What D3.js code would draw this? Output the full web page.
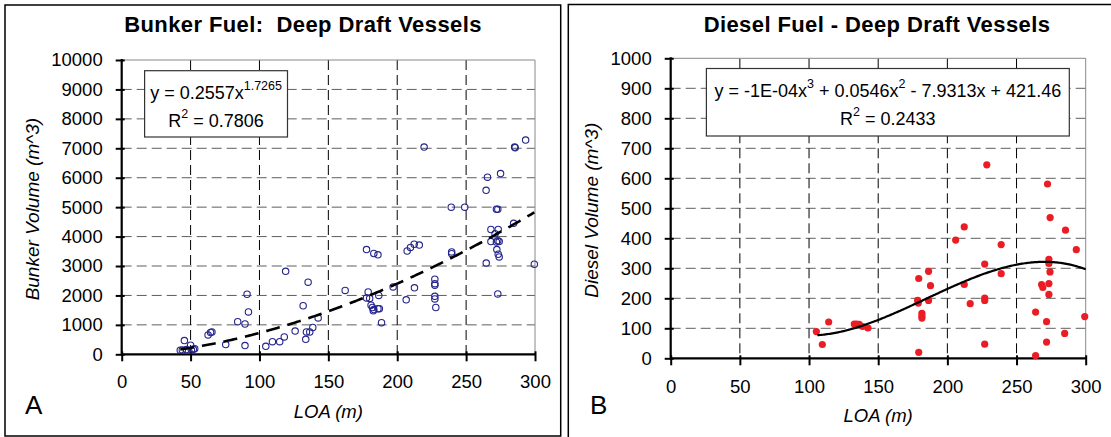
<!DOCTYPE html>
<html>
<head>
<meta charset="utf-8">
<script src="https://cdn.jsdelivr.net/npm/d3@7"></script>
<style>
body { margin: 0; background: #fff; }
svg { display: block; font-family: "Liberation Sans", Arial, sans-serif; }
</style>
</head>
<body>
<div id="chart"></div>
<script>
// ---- data ----
var xTicks = [0, 50, 100, 150, 200, 250, 300];
var bunkerTicks = [0, 1000, 2000, 3000, 4000, 5000, 6000, 7000, 8000, 9000, 10000];
var dieselTicks = [0, 100, 200, 300, 400, 500, 600, 700, 800, 900, 1000];

var bunkerLOA = [42.5, 44, 45.5, 47, 50, 50.6, 52, 53,
    62.7, 64.5, 65.5, 75.5, 84.2, 89.5, 89.5, 91, 92,
    104.6, 109.4, 114.7, 118, 119, 125.9, 131.7, 133.6, 134.1, 136.5, 135.3, 138.7, 142.6,
    162.2, 177.7, 183, 186, 177.7, 178.9, 180, 181, 182, 182.6, 183, 186, 187, 186.6, 188.6,
    197, 206.5, 207.2, 209.6, 212.3, 216, 212.5, 219.5,
    227.3, 227.3, 227.3, 227.3, 227.3, 228,
    239.2, 239.5, 239.5, 249,
    264.5, 265.5, 264.6, 268, 268, 271, 272, 272, 273, 273.3, 273, 274, 272.3, 273.3, 274, 273,
    275, 284.5, 285.2, 285.6, 293.2, 299.5];
var bunkerVolume = [140, 150, 465, 160, 310, 150, 170, 190,
    660, 740, 760, 330, 1110, 1030, 295, 2040, 1440,
    270, 430, 430, 590, 2820, 790, 1650, 510, 760, 760, 2450, 910, 1235,
    2170, 3560, 3425, 3380, 1915, 2120, 1900, 1670, 1590, 1480, 1520, 1550, 1550, 2000, 1075,
    2290, 1850, 3510, 3630, 3740, 3710, 2260, 7040,
    2550, 2400, 2350, 1970, 1880, 1590,
    5000, 3480, 3420, 5000,
    5570, 6020, 3100, 4240, 3830, 4100, 3820, 4930, 4930, 4240, 3860, 3830, 3560, 3400, 3310, 2050,
    6140, 4450, 7040, 7020, 7280, 3060];

var dieselLOA = [105.3, 109.6, 114.2, 132.7, 134.5, 136.3, 138.8, 142.6,
    179.3, 179.3, 178.5, 179, 181.6, 181.6, 181.6, 186.4, 186.4, 187.8,
    206, 212.2, 212.2, 216.5, 227, 227, 227, 227, 228.5, 238.9, 238.9,
    263.8, 263.8, 268.1, 269, 271.7, 271.7, 272.4, 273.4, 273.4, 273.4, 273.4, 274.2, 274.3,
    284.8, 285.4, 293.2, 299.3];
var dieselVolume = [89, 46, 121, 114, 114, 113, 106, 101,
    20, 266, 193, 184, 150, 141, 134, 290, 193, 242,
    394, 438, 246, 182, 314, 201, 193, 47, 645, 379, 282,
    154, 9, 246, 236, 122, 54, 581, 330, 316, 249, 213, 288, 469,
    83, 427, 362, 139];

// trendline coefficients: power fit, and cubic fit (first term is the unrounded -1E-04)
var bunkerFit = [0.2557, 1.7265];
var dieselFit = [-0.0000985, 0.0546, -7.9313, 421.46];

// equation label pieces, "sup" marks a superscript
var bunkerEq = [["y = 0.2557x", ""], ["1.7265", "sup"]];
var bunkerR2 = "0.7806";
var dieselEq = [["y = -1E-04x", ""], ["3", "sup"], [" + 0.0546x", ""], ["2", "sup"], [" - 7.9313x + 421.46", ""]];
var dieselR2 = "0.2433";

/**
 * Constructor for one scatter panel
 */
function ScatterPanel(svg, cfg){
    var self = this;
    self.svg = svg;
    self.cfg = cfg;
    self.init();
};

ScatterPanel.prototype.init = function(){
    var self = this;
    var c = self.cfg;
    self.g = self.svg.append("g");
    self.x = d3.scaleLinear().domain([0, 300]).range([c.left, c.right]);
    self.y = d3.scaleLinear().domain([0, c.yMax]).range([c.bottom, c.top]);

    //outer frame of the panel
    self.g.append("rect")
        .attr("x", c.frame[0]).attr("y", c.frame[1])
        .attr("width", c.frame[2]).attr("height", c.frame[3])
        .attr("fill", "none").attr("stroke", "#000").attr("stroke-width", 1.5);

    self.drawGrid();
    self.drawAxes();
    self.drawText();
};

ScatterPanel.prototype.drawGrid = function(){
    var self = this;
    var c = self.cfg;
    var yT = c.yTicks.filter(function(d){ return d > 0 && d < c.yMax; });
    var xT = xTicks.filter(function(d){ return d > 0 && d < 300; });

    self.g.selectAll("line.hgrid").data(yT).enter().append("line").attr("class", "hgrid")
        .attr("x1", c.left).attr("x2", c.right)
        .attr("y1", function(d){ return self.y(d); }).attr("y2", function(d){ return self.y(d); })
        .attr("stroke", "#5e5e5e").attr("stroke-width", 1).attr("stroke-dasharray", "10,5");

    self.g.selectAll("line.vgrid").data(xT).enter().append("line").attr("class", "vgrid")
        .attr("y1", c.top).attr("y2", c.bottom)
        .attr("x1", function(d){ return self.x(d); }).attr("x2", function(d){ return self.x(d); })
        .attr("stroke", "#000").attr("stroke-width", 1).attr("stroke-dasharray", "10,5");

    //plot area border, top and right
    self.g.append("path")
        .attr("d", "M" + c.left + "," + c.top + "H" + c.right + "V" + c.bottom)
        .attr("fill", "none").attr("stroke", "#888").attr("stroke-width", 1);
};

ScatterPanel.prototype.drawAxes = function(){
    var self = this;
    var c = self.cfg;

    var yAxis = d3.axisLeft(self.y).tickValues(c.yTicks).tickFormat(d3.format("d"))
        .tickSize(9).tickSizeOuter(0).tickPadding(13);
    var ya = self.g.append("g").attr("transform", "translate(" + (c.left + 3) + ",0)").call(yAxis);

    var xAxis = d3.axisBottom(self.x).tickValues(xTicks).tickFormat(d3.format("d"))
        .tickSize(10).tickSizeOuter(0).tickPadding(c.xPad);
    var xa = self.g.append("g").attr("transform", "translate(0," + (c.bottom - 3) + ")").call(xAxis);

    [ya, xa].forEach(function(a){
        a.select(".domain").remove();
        a.selectAll(".tick line").attr("stroke", "#000").attr("stroke-width", 2);
        a.selectAll(".tick text").attr("fill", "#000").style("font-size", "18.5px")
            .style("font-family", "'Liberation Sans', Arial, sans-serif");
    });

    self.g.append("path")
        .attr("d", "M" + c.left + "," + (c.top - 1) + "V" + c.bottom + "H" + (c.right + 1))
        .attr("fill", "none").attr("stroke", "#000").attr("stroke-width", 2.2);
};

ScatterPanel.prototype.drawText = function(){
    var self = this;
    var c = self.cfg;

    self.g.append("text").text(c.title)
        .attr("x", c.titleX).attr("y", 32).attr("text-anchor", "middle")
        .style("font-size", "22px").style("font-weight", "bold").style("letter-spacing", "0.4px")
        .attr("xml:space", "preserve");

    self.g.append("text").text("LOA (m)")
        .attr("x", (c.left + c.right) / 2).attr("y", c.xLabelY).attr("text-anchor", "middle")
        .style("font-size", "18.5px").style("font-style", "italic");

    self.g.append("text").text(c.yLabel)
        .attr("transform", "translate(" + c.yLabelX + "," + ((c.top + c.bottom) / 2 + 2) + ") rotate(-90)")
        .attr("text-anchor", "middle")
        .style("font-size", "19px").style("font-style", "italic");

    self.g.append("text").text(c.letter)
        .attr("x", c.letterX).attr("y", 414)
        .style("font-size", "26px");
};

ScatterPanel.prototype.drawPoints = function(xs, ys, style){
    var self = this;
    var pts = xs.map(function(d, i){ return [d, ys[i]]; });
    self.g.selectAll("circle.pt").data(pts).enter().append("circle").attr("class", "pt")
        .attr("cx", function(d){ return self.x(d[0]); })
        .attr("cy", function(d){ return self.y(d[1]); })
        .attr("r", style.r)
        .attr("fill", style.fill).attr("stroke", style.stroke).attr("stroke-width", style.width);
};

ScatterPanel.prototype.drawTrend = function(from, fn, dash, width){
    var self = this;
    var xs = d3.range(from, 300.001, 1);
    var line = d3.line()
        .x(function(d){ return self.x(d); })
        .y(function(d){ return self.y(fn(d)); });
    self.g.append("path").datum(xs)
        .attr("d", line)
        .attr("fill", "none").attr("stroke", "#000").attr("stroke-width", width)
        .attr("stroke-dasharray", dash);
};

ScatterPanel.prototype.drawEquation = function(parts, r2){
    var self = this;
    var b = self.cfg.eqBox;
    self.g.append("rect")
        .attr("x", b[0]).attr("y", b[1]).attr("width", b[2]).attr("height", b[3])
        .attr("fill", "#fff").attr("stroke", "#333").attr("stroke-width", 1.2);

    var cx = b[0] + b[2] / 2;
    var t = self.g.append("text").attr("x", cx).attr("y", b[1] + 28)
        .attr("text-anchor", "middle").style("font-size", "18px").attr("xml:space", "preserve");
    var raised = false;
    parts.forEach(function(p){
        var s = t.append("tspan").text(p[0]);
        if (p[1] == "sup"){
            s.attr("dy", -9).style("font-size", "12.5px");
            raised = true;
        }
        else if (raised){
            s.attr("dy", 9);
            raised = false;
        }
    });

    var r = self.g.append("text").attr("x", cx).attr("y", b[1] + 56)
        .attr("text-anchor", "middle").style("font-size", "18px").attr("xml:space", "preserve");
    r.append("tspan").text("R");
    r.append("tspan").text("2").attr("dy", -9).style("font-size", "12.5px");
    r.append("tspan").text(" = " + r2).attr("dy", 9);
};

//creates the svg and both panels
var svg = d3.select("#chart").append("svg").attr("width", 1111).attr("height", 437);

var bunker = new ScatterPanel(svg, {
    left: 121.7, right: 535, top: 60, bottom: 354.3, yMax: 10000, yTicks: bunkerTicks,
    frame: [5, 5, 555.7, 431], title: "Bunker Fuel:  Deep Draft Vessels", titleX: 303,
    yLabel: "Bunker Volume (m^3)", yLabelX: 39, letter: "A", letterX: 25,
    xPad: 14, xLabelY: 418, eqBox: [144.6, 70.7, 142.9, 66.3]
});
bunker.drawPoints(bunkerLOA, bunkerVolume, {r: 3.2, fill: "none", stroke: "#24248c", width: 1.1});
bunker.drawTrend(d3.min(bunkerLOA), function(x){ return bunkerFit[0] * Math.pow(x, bunkerFit[1]); }, "14,8", 2.6);
bunker.drawEquation(bunkerEq, bunkerR2);

var diesel = new ScatterPanel(svg, {
    left: 670.7, right: 1085.7, top: 58.3, bottom: 358.3, yMax: 1000, yTicks: dieselTicks,
    frame: [568.3, 4.5, 560, 450], title: "Diesel Fuel - Deep Draft Vessels", titleX: 877,
    yLabel: "Diesel Volume (m^3)", yLabelX: 598, letter: "B", letterX: 590,
    xPad: 15, xLabelY: 422, eqBox: [706.4, 68.5, 362.9, 67.5]
});
diesel.drawPoints(dieselLOA, dieselVolume, {r: 3.6, fill: "#ec1c24", stroke: "none", width: 0});
diesel.drawTrend(106, function(x){
    return dieselFit[0] * x * x * x + dieselFit[1] * x * x + dieselFit[2] * x + dieselFit[3];
}, null, 2.2);
diesel.drawEquation(dieselEq, dieselR2);
</script>
</body>
</html>
